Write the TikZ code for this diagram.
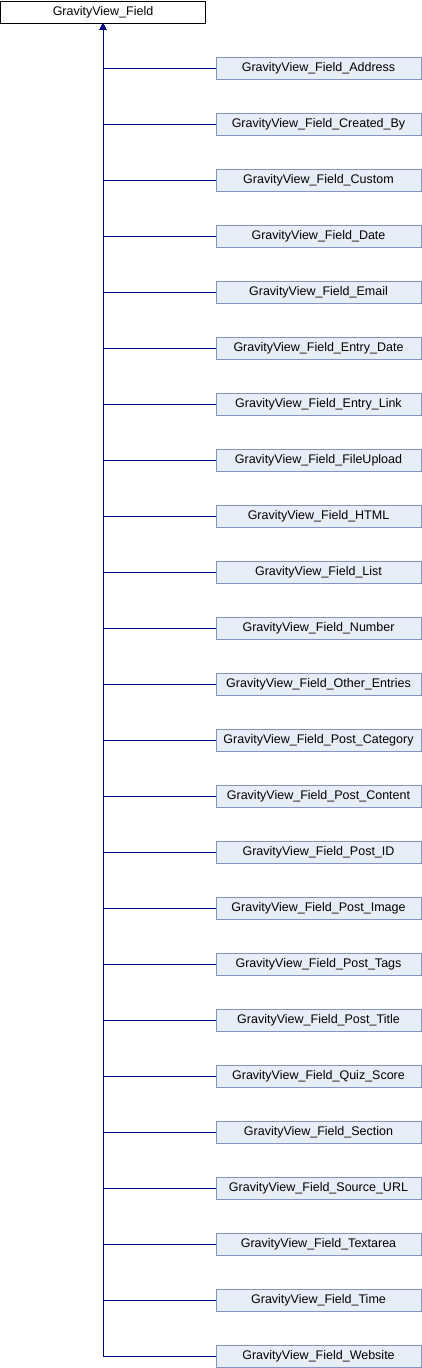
\documentclass[tikz,border=0pt]{standalone}
\usepackage{fontspec}
\setmainfont{Liberation Sans}
\usetikzlibrary{arrows.meta}
\definecolor{boxfill}{HTML}{E8EEF7}
\definecolor{boxline}{HTML}{8494C4}
\definecolor{edgeblue}{HTML}{000080}
\tikzset{
  basebox/.style={draw=black, fill=white, line width=1pt, minimum width=205pt, minimum height=22pt, inner sep=0pt, font=\fontsize{12.5}{14}\selectfont},
  childbox/.style={draw=boxline, fill=boxfill, line width=1pt, minimum width=205pt, minimum height=22pt, inner sep=0pt, font=\fontsize{12.5}{14}\selectfont},
  edge/.style={draw=edgeblue, line width=1pt, -{Triangle[length=6pt,width=6pt]}}
}
\begin{document}
\begin{tikzpicture}[x=1pt,y=-1pt]
\useasboundingbox (0,0) rectangle (422,1368);
\node[basebox] (base) at (103,12){GravityView\_Field};
\node[childbox] (tid1) at (318.5,68){GravityView\_Field\_Address};
\node[childbox] (tid2) at (318.5,124){GravityView\_Field\_Created\_By};
\node[childbox] (tid3) at (318.5,180){GravityView\_Field\_Custom};
\node[childbox] (tid4) at (318.5,236){GravityView\_Field\_Date};
\node[childbox] (tid5) at (318.5,292){GravityView\_Field\_Email};
\node[childbox] (tid6) at (318.5,348){GravityView\_Field\_Entry\_Date};
\node[childbox] (tid7) at (318.5,404){GravityView\_Field\_Entry\_Link};
\node[childbox] (tid8) at (318.5,460){GravityView\_Field\_FileUpload};
\node[childbox] (tid9) at (318.5,516){GravityView\_Field\_HTML};
\node[childbox] (tid10) at (318.5,572){GravityView\_Field\_List};
\node[childbox] (tid11) at (318.5,628){GravityView\_Field\_Number};
\node[childbox] (tid12) at (318.5,684){GravityView\_Field\_Other\_Entries};
\node[childbox] (tid13) at (318.5,740){GravityView\_Field\_Post\_Category};
\node[childbox] (tid14) at (318.5,796){GravityView\_Field\_Post\_Content};
\node[childbox] (tid15) at (318.5,852){GravityView\_Field\_Post\_ID};
\node[childbox] (tid16) at (318.5,908){GravityView\_Field\_Post\_Image};
\node[childbox] (tid17) at (318.5,964){GravityView\_Field\_Post\_Tags};
\node[childbox] (tid18) at (318.5,1020){GravityView\_Field\_Post\_Title};
\node[childbox] (tid19) at (318.5,1076){GravityView\_Field\_Quiz\_Score};
\node[childbox] (tid20) at (318.5,1132){GravityView\_Field\_Section};
\node[childbox] (tid21) at (318.5,1188){GravityView\_Field\_Source\_URL};
\node[childbox] (tid22) at (318.5,1244){GravityView\_Field\_Textarea};
\node[childbox] (tid23) at (318.5,1300){GravityView\_Field\_Time};
\node[childbox] (tid24) at (318.5,1356){GravityView\_Field\_Website};
\draw[edge](tid1.west) -| (base.south);
\draw[edge](tid2.west) -| (base.south);
\draw[edge](tid3.west) -| (base.south);
\draw[edge](tid4.west) -| (base.south);
\draw[edge](tid5.west) -| (base.south);
\draw[edge](tid6.west) -| (base.south);
\draw[edge](tid7.west) -| (base.south);
\draw[edge](tid8.west) -| (base.south);
\draw[edge](tid9.west) -| (base.south);
\draw[edge](tid10.west) -| (base.south);
\draw[edge](tid11.west) -| (base.south);
\draw[edge](tid12.west) -| (base.south);
\draw[edge](tid13.west) -| (base.south);
\draw[edge](tid14.west) -| (base.south);
\draw[edge](tid15.west) -| (base.south);
\draw[edge](tid16.west) -| (base.south);
\draw[edge](tid17.west) -| (base.south);
\draw[edge](tid18.west) -| (base.south);
\draw[edge](tid19.west) -| (base.south);
\draw[edge](tid20.west) -| (base.south);
\draw[edge](tid21.west) -| (base.south);
\draw[edge](tid22.west) -| (base.south);
\draw[edge](tid23.west) -| (base.south);
\draw[edge](tid24.west) -| (base.south);
\end{tikzpicture}
\end{document}
